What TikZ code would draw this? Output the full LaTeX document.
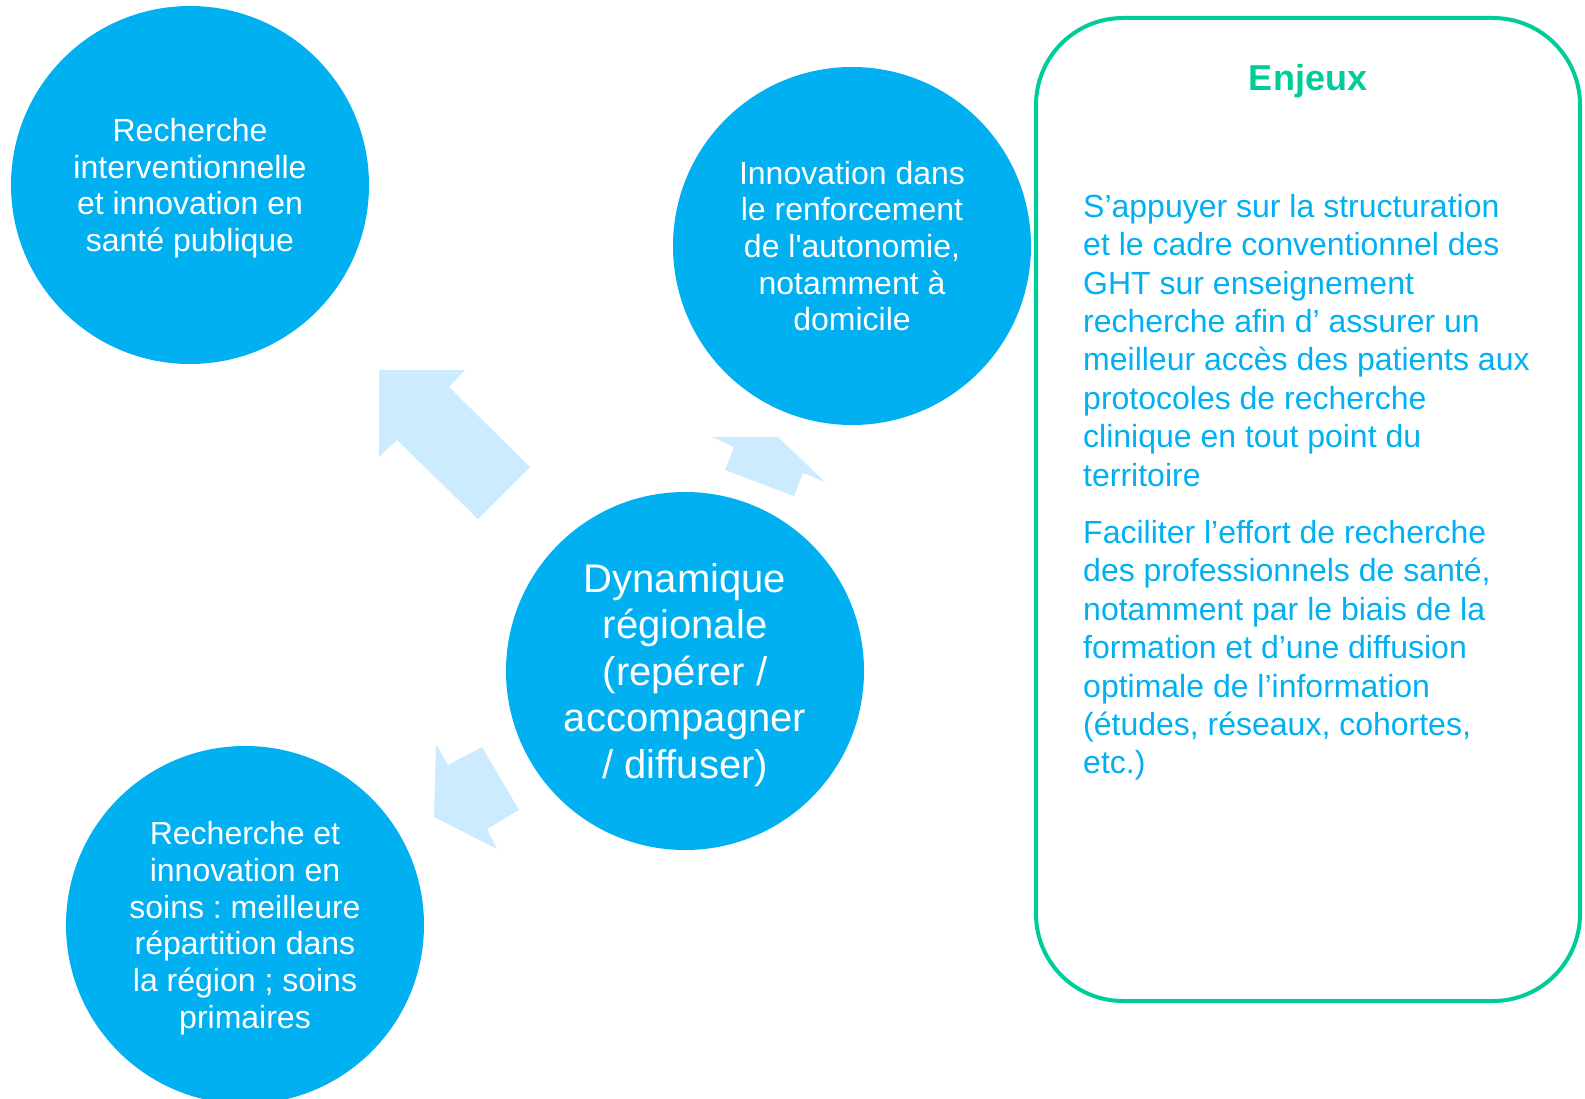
\documentclass[tikz,border=0pt]{standalone}
\usepackage{fontspec}
\setmainfont{Liberation Sans}
\frenchspacing
\definecolor{bleu}{HTML}{00B0F0}
\definecolor{bleuclair}{HTML}{CDEBFF}
\definecolor{vert}{HTML}{00CC99}
\tikzset{
  bulle/.style={circle, fill=bleu, text=white, minimum size=358pt, inner sep=0pt,
    align=center, text depth=0pt, font=\fontsize{32}{36.7}\selectfont},
  fleche/.style={fill=bleuclair, draw=none}
}
\begin{document}
\begin{tikzpicture}[x=1pt, y=-1pt]
    \useasboundingbox (0,0) rectangle (1585,1099);
    % fleches
    \fill[fleche] (379,370)--(465,370)--(449,387)--(530,467)--(478,519)--(397,440)--(379,457)--cycle;
    \fill[fleche] (712,437)--(778,437)--(825,482)--(803,473)--(794,496)--(725,470)--(734,447)--cycle;
    \fill[fleche] (436,744)--(448,765)--(482,747)--(519,810)--(487,829)--(497,849)--(434,817)--cycle;
    % bulles
    \node[bulle] (sante) at (190,185) {Recherche\\interventionnelle\\et innovation en\\santé publique};
    \node[bulle] (autonomie) at (852,246) {Innovation dans\\le renforcement\\de l\textquotesingle autonomie,\\notamment à\\domicile};
    \node[bulle, font=\fontsize{40}{46.5}\selectfont] (dynamique) at (685,671) {Dynamique\\régionale\\(repérer /\\accompagner\\/ diffuser)};
    \node[bulle] (soins) at (245,925) {Recherche et\\innovation en\\soins : meilleure\\répartition dans\\la région ; soins\\primaires};
    % enjeux
    \draw[vert, line width=4pt, rounded corners=87pt] (1036,18) rectangle (1580,1001);
    \node[text=vert, font=\fontsize{36}{40}\selectfont\bfseries] (titre) at (1308,81) {Enjeux};
    \node[anchor=north west, inner sep=0pt, align=left, text=bleu,
      font=\fontsize{32}{38.4}\selectfont] (texte) at (1083,194)
      {S’appuyer sur la structuration\\et le cadre conventionnel des\\GHT sur enseignement\\recherche afin d’ assurer un\\meilleur accès des patients aux\\protocoles de recherche\\clinique en tout point du\\territoire\\[19pt]
       Faciliter l’effort de recherche\\des professionnels de santé,\\notamment par le biais de la\\formation et d’une diffusion\\optimale de l’information\\(études, réseaux, cohortes,\\etc.)};
\end{tikzpicture}
\end{document}
